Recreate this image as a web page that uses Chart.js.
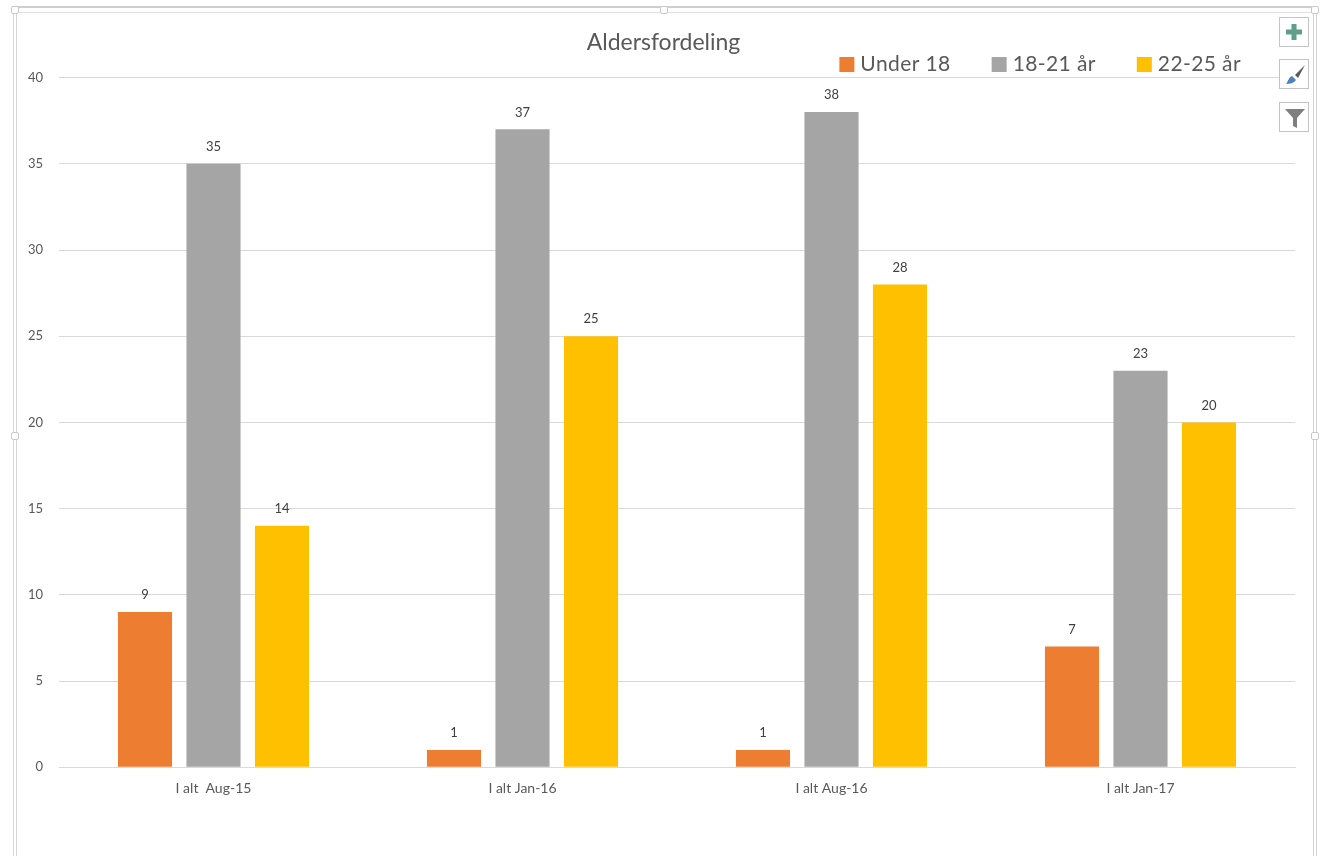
<!DOCTYPE html>
<html>
<head>
<meta charset="utf-8">
<title>Aldersfordeling</title>
<script src="https://cdn.jsdelivr.net/npm/chart.js@4/dist/chart.umd.min.js"></script>
<style>
html, body { margin: 0; padding: 0; background: #fff; overflow: hidden; }
#wrap { position: relative; width: 1327px; height: 856px; }
canvas { position: absolute; left: 0; top: 0; }
.line { position: absolute; background: #d4d4d4; }
.handle { position: absolute; width: 6px; height: 6px; background: #fff; border: 1px solid #c8c8c8; border-radius: 2px; }
.btn { position: absolute; left: 1279px; width: 28px; height: 28px; background: #fff; border: 1px solid #c4c4c4; }
.btn svg { display: block; }
</style>
</head>
<body>
<div id="wrap">
  <canvas id="chart" width="1327" height="856"></canvas>
  <!-- selection frame round the chart -->
  <div class="line" style="left:14px;top:6px;width:1300px;height:2px;background:#cfcfcf"></div>
  <div class="line" style="left:14px;top:12px;width:1300px;height:1px;background:#e2e2e2"></div>
  <div class="line" style="left:13px;top:8px;width:1px;height:848px"></div>
  <div class="line" style="left:16px;top:12px;width:1px;height:844px"></div>
  <div class="line" style="left:1313px;top:8px;width:1px;height:848px"></div>
  <div class="line" style="left:1316px;top:12px;width:1px;height:844px"></div>
  <div class="handle" style="left:11px;top:6px"></div>
  <div class="handle" style="left:660px;top:6px"></div>
  <div class="handle" style="left:1311px;top:6px"></div>
  <div class="handle" style="left:11px;top:432px"></div>
  <div class="handle" style="left:1311px;top:432px"></div>
  <div class="btn" style="top:17px">
    <svg width="28" height="28"><path d="M11.500 6h5v5.500H22v5h-5.500V22h-5v-5.500H6v-5h5.500z" fill="#5f9e8c"/></svg>
  </div>
  <div class="btn" style="top:59px">
    <svg width="28" height="28"><path d="M25 5 L15 15 L18 18 Z" fill="#5a5a5a"/><path d="M6 24 C8 22 8 18 12 16 L16 20 C14 23 10 24 6 24 Z" fill="#4f81bd"/></svg>
  </div>
  <div class="btn" style="top:102px">
    <svg width="28" height="28"><path d="M5 6 H25 L17 15 V25 L13 23 V15 Z" fill="#7f7f7f"/></svg>
  </div>
</div>
<script>
// values
categories = ["I alt  Aug-15", "I alt Jan-16", "I alt Aug-16", "I alt Jan-17"]
under18 = [9, 1, 1, 7]
age18to21 = [35, 37, 38, 23]
age22to25 = [14, 25, 28, 20]

Chart.defaults.font.family = "Lato, 'Open Sans', sans-serif"

// numbers above the bars
var barLabels = {
	id: "barLabels",
	afterDatasetsDraw: function (chart) {
		var ctx = chart.ctx
		ctx.save()
		ctx.font = "13px Lato"
		ctx.fillStyle = "#404040"
		ctx.textAlign = "center"
		ctx.textBaseline = "middle"
		chart.data.datasets.forEach(function (ds, i) {
			chart.getDatasetMeta(i).data.forEach(function (bar, j) {
				ctx.fillText(ds.data[j], bar.x, bar.y - 17)
			})
		})
		ctx.restore()
	}
}

// the legend hangs just over the top gridline and ends short of the plot edge,
// the built in one wants its own row so it is drawn here from the datasets
var sideLegend = {
	id: "sideLegend",
	beforeDraw: function (chart) {
		// left padding is smaller than right so tick labels don't get clipped, recentre the title
		chart.titleBlock.left = 32
	},
	afterDraw: function (chart) {
		var ctx = chart.ctx
		var right = 1241
		ctx.save()
		ctx.font = "21px Lato"
		ctx.letterSpacing = "0.4px"
		ctx.textBaseline = "middle"
		chart.data.datasets.slice().reverse().forEach(function (ds) {
			var w = ctx.measureText(ds.label).width
			ctx.fillStyle = "#595959"
			ctx.fillText(ds.label, right - w, 64)
			ctx.fillStyle = ds.backgroundColor
			ctx.fillRect(right - w - 21, 57, 15, 15)
			right = right - w - 21 - 41
		})
		ctx.restore()
	}
}

new Chart(document.getElementById("chart").getContext("2d"), {
	type: "bar",
	data: {
		labels: categories,
		datasets: [
			{ label: "Under 18", data: under18, backgroundColor: "#ED7D31" },
			{ label: "18-21 år", data: age18to21, backgroundColor: "#A5A5A5" },
			{ label: "22-25 år", data: age22to25, backgroundColor: "#FFC000" }
		]
	},
	plugins: [barLabels, sideLegend],
	options: {
		responsive: false,
		animation: false,
		layout: { padding: { left: 20, right: 32, top: 29, bottom: 54 } },
		datasets: { bar: { barPercentage: 0.79, categoryPercentage: 0.665 } },
		plugins: {
			title: {
				display: true,
				text: "Aldersfordeling",
				color: "#595959",
				font: { size: 23, weight: "normal" },
				padding: { top: 0, bottom: 21 }
			},
			legend: { display: false },
			tooltip: { enabled: false }
		},
		scales: {
			x: {
				grid: { display: false },
				border: { color: "#d9d9d9" },
				ticks: { color: "#595959", font: { size: 14 }, padding: 5 }
			},
			y: {
				min: 0,
				max: 40,
				afterFit: function (axis) { axis.width = 39 },
				grid: { color: "#d9d9d9", drawTicks: false },
				border: { display: false },
				ticks: { stepSize: 5, color: "#595959", font: { size: 13 }, padding: 16 }
			}
		}
	}
})
</script>
</body>
</html>
